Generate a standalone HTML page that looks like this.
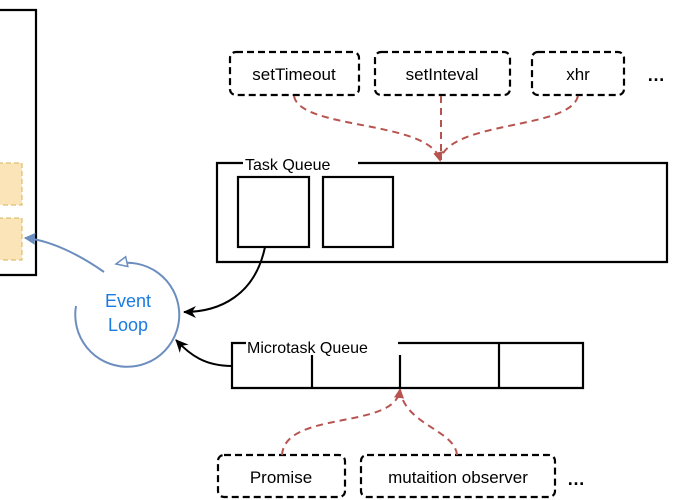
<!DOCTYPE html>
<html><head><style>body{margin:0;background:#fff}svg{display:block}</style></head><body>
<svg width="680" height="500" xmlns="http://www.w3.org/2000/svg" font-family="Liberation Sans, sans-serif">
<defs>
<marker id="r" markerWidth="10" markerHeight="10" refX="8" refY="5" orient="auto" markerUnits="userSpaceOnUse"><path d="M0,0 L10,5 L0,10 Z" fill="#b85450"/></marker>
<marker id="k" markerWidth="14" markerHeight="14" refX="12" refY="7" orient="auto" markerUnits="userSpaceOnUse"><path d="M0,1 L13,7 L0,13 L4,7 Z" fill="#000"/></marker>
<marker id="bf" markerWidth="12" markerHeight="12" refX="10" refY="6" orient="auto" markerUnits="userSpaceOnUse"><path d="M0,0 L11,6 L0,12 Z" fill="#6c8ebf"/></marker>
<marker id="bo" markerWidth="14" markerHeight="12" refX="12" refY="6" orient="auto" markerUnits="userSpaceOnUse"><path d="M1,1 L12,6 L1,11 Z" fill="#fff" stroke="#6c8ebf" stroke-width="1.5"/></marker>
</defs>
<path d="M0,10 L36,10 L36,275 L0,275" fill="none" stroke="#000" stroke-width="2.2"/>
<rect x="-2" y="163" width="24" height="42" fill="#fbe4b8" stroke="#d6b656" stroke-dasharray="5,3"/>
<rect x="-2" y="218" width="24" height="42" fill="#fbe4b8" stroke="#d6b656" stroke-dasharray="5,3"/>
<g fill="none" stroke="#000" stroke-width="2.2" stroke-dasharray="7,4">
<rect x="230" y="52" width="129" height="43" rx="6"/>
<rect x="375" y="52" width="135" height="43" rx="6"/>
<rect x="532" y="52" width="92" height="43" rx="6"/>
<rect x="218" y="455" width="127" height="42" rx="6"/>
<rect x="361" y="455" width="194" height="42" rx="6"/>
</g>
<g font-size="17" fill="#000" text-anchor="middle">
<text x="294" y="80">setTimeout</text>
<text x="442" y="80">setInteval</text>
<text x="578" y="80">xhr</text>
<text x="281" y="483">Promise</text>
<text x="458" y="483">mutaition observer</text>
</g>
<text x="647" y="81" font-size="18" font-weight="bold">…</text>
<text x="567" y="485" font-size="18" font-weight="bold">…</text>
<g fill="none" stroke="#b85450" stroke-width="2" stroke-dasharray="7,5">
<path d="M294,96 C300,130 430,120 440,160" marker-end="url(#r)"/>
<path d="M578,96 C570,130 450,120 440,160"/>
<path d="M441,96 L441,160"/>
<path d="M282,455 C285,410 395,430 400,390" marker-end="url(#r)"/>
<path d="M457,455 C455,430 405,425 400,390"/>
</g>
<path d="M243,163 L217,163 L217,262 L667,262 L667,163 L358,163" fill="none" stroke="#000" stroke-width="2.2"/>
<text x="245" y="170" font-size="16">Task Queue</text>
<rect x="238" y="177" width="71" height="70" fill="none" stroke="#000" stroke-width="2.2"/>
<rect x="323" y="177" width="70" height="70" fill="none" stroke="#000" stroke-width="2.2"/>
<path d="M246,343 L232,343 L232,388 L583,388 L583,343 L398,343" fill="none" stroke="#000" stroke-width="2.2"/>
<path d="M312,355 L312,388 M400,355 L400,388 M499,343 L499,388" stroke="#000" stroke-width="2.2"/>
<text x="247" y="353" font-size="16">Microtask Queue</text>
<path d="M265,247 C255,295 220,312 184,312" fill="none" stroke="#000" stroke-width="2" marker-end="url(#k)"/>
<path d="M232,366 C205,366 190,355 176,340" fill="none" stroke="#000" stroke-width="2" marker-end="url(#k)"/>
<path d="M76,306 A52,52 0 1 0 116,264" fill="none" stroke="#6c8ebf" stroke-width="2" marker-end="url(#bo)"/>
<path d="M104,272 C80,255 50,240 25,238" fill="none" stroke="#6c8ebf" stroke-width="2" marker-end="url(#bf)"/>
<g font-size="18" fill="#1a7be0" text-anchor="middle">
<text x="128" y="307">Event</text>
<text x="128" y="331">Loop</text>
</g>
</svg>
</body></html>
